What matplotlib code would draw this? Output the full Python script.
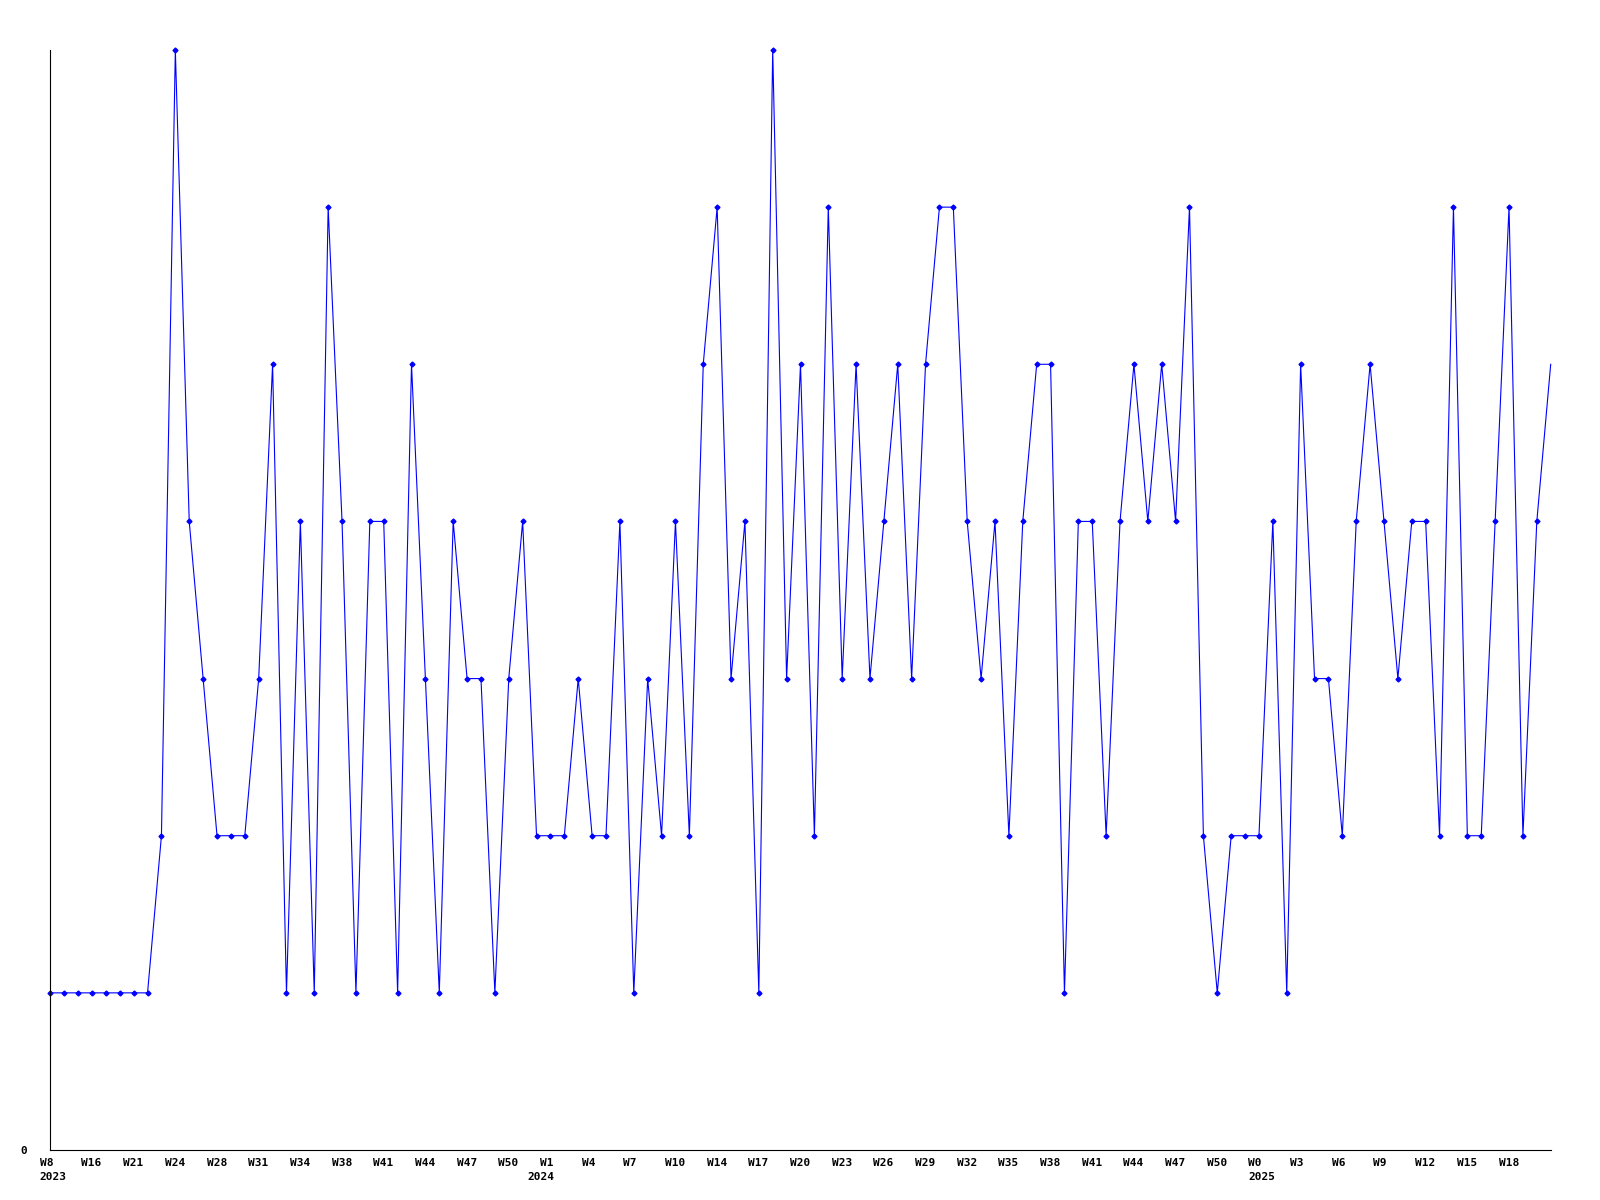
import matplotlib
matplotlib.use('Agg')
import matplotlib.pyplot as plt
import matplotlib.transforms as mtransforms

# weekly counts, one value per week
values = [1, 1, 1, 1, 1, 1, 1, 1, 2, 7,
          4, 3, 2, 2, 2, 3, 5, 1, 4, 1,
          6, 4, 1, 4, 4, 1, 5, 3, 1, 4,
          3, 3, 1, 3, 4, 2, 2, 2, 3, 2,
          2, 4, 1, 3, 2, 4, 2, 5, 6, 3,
          4, 1, 7, 3, 5, 2, 6, 3, 5, 3,
          4, 5, 3, 5, 6, 6, 4, 3, 4, 2,
          4, 5, 5, 1, 4, 4, 2, 4, 5, 4,
          5, 4, 6, 2, 1, 2, 2, 2, 4, 1,
          5, 3, 3, 2, 4, 5, 4, 3, 4, 4,
          2, 6, 2, 2, 4, 6, 2, 4, 5]

# labels on every third week
week_labels = ['W8', 'W16', 'W21', 'W24', 'W28', 'W31', 'W34', 'W38', 'W41',
               'W44', 'W47', 'W50', 'W1', 'W4', 'W7', 'W10', 'W14', 'W17',
               'W20', 'W23', 'W26', 'W29', 'W32', 'W35', 'W38', 'W41', 'W44',
               'W47', 'W50', 'W0', 'W3', 'W6', 'W9', 'W12', 'W15', 'W18']
label_step = 3

years = ['2023', '2024', '2025']
year_pos = [0, 36, 87]

x = list(range(len(values)))

fig = plt.figure(figsize=(16, 12), dpi=100)
ax = fig.add_axes([50.3 / 1600, 1 - 1150 / 1200, 1500.4 / 1600, 1100 / 1200])

ax.plot(x, values, color='#0000ff', linewidth=0.8, clip_on=False,
        marker='D', markersize=2.5, markevery=list(range(len(values) - 1)))

ax.set_xlim(0, len(values) - 1)
ax.set_ylim(0, 7)
for side in ['top', 'right']:
    ax.spines[side].set_visible(False)
for side in ['left', 'bottom']:
    ax.spines[side].set_color('black')
    ax.spines[side].set_linewidth(0.8)

font = dict(family='DejaVu Sans Mono', weight='bold', size=8)

ax.set_xticks([])
ax.set_yticks([0])
ax.set_yticklabels(['0'], fontdict=font)
ax.tick_params(axis='y', length=0, pad=17)

base = ax.get_xaxis_transform()
week_tr = base + mtransforms.ScaledTranslation(-10.5 / 100, -7.5 / 100, fig.dpi_scale_trans)
for i, lab in enumerate(week_labels):
    ax.text(i * label_step, 0, lab, transform=week_tr, ha='left', va='top', **font)

year_tr = base + mtransforms.ScaledTranslation(-10.5 / 100, -22.5 / 100, fig.dpi_scale_trans)
year_tr_right = base + mtransforms.ScaledTranslation(3.5 / 100, -22.5 / 100, fig.dpi_scale_trans)
for yr, pos in zip(years, year_pos):
    if yr == '2024':
        ax.text(pos, 0, yr, transform=year_tr_right, ha='right', va='top', **font)
    else:
        ax.text(pos, 0, yr, transform=year_tr, ha='left', va='top', **font)

fig.savefig('out.png', dpi=100, facecolor='white')
